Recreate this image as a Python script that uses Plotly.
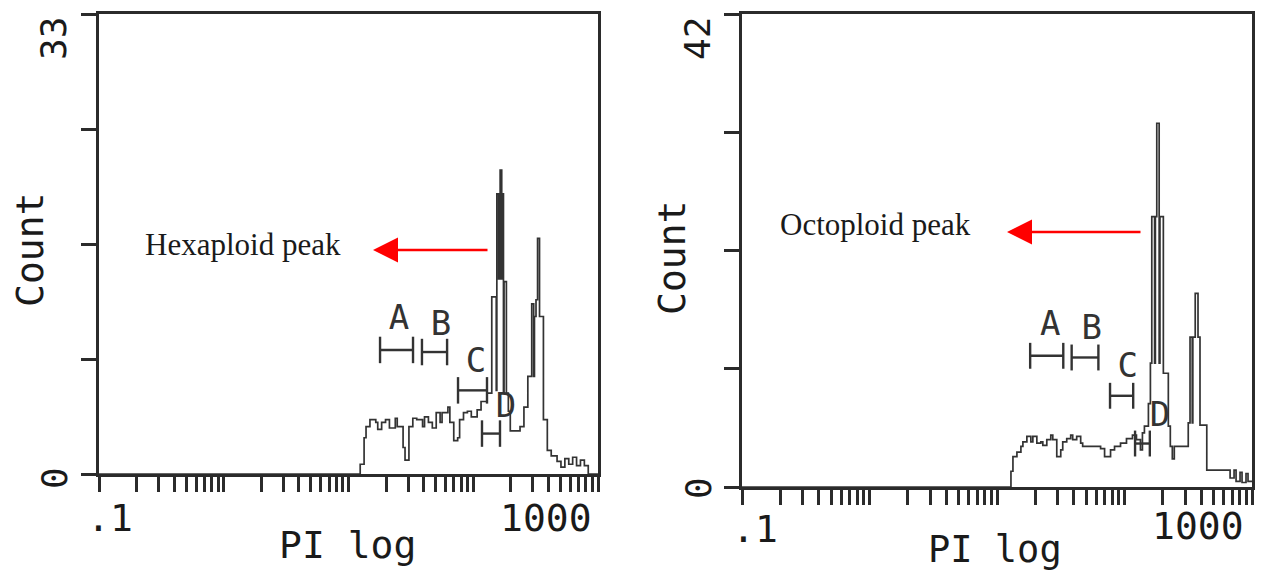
import plotly.graph_objects as go

# ---------------- data ----------------
# histogram bin edges in channels (256 channels over 4 log decades, .1 .. 1000) and counts
L_ch = [0, 134, 136, 137, 139, 142, 143, 145, 147, 149,
        152, 153, 156, 157, 159, 161, 163, 166, 167, 169,
        171, 173, 175, 176, 179, 180, 182, 184, 185, 187,
        189, 191, 194, 196, 199, 201.5, 203.8, 204.1, 205.0, 205.8,
        206.6, 207.0, 207.5, 207.8, 209.0, 210.0, 211.0, 216, 218, 220,
        222, 223.0, 223.4, 224.2, 225, 226, 228, 230, 232, 235,
        237, 239, 241, 243, 245, 247, 249, 251]
L_count = [0, 0.7, 2.6, 3.4, 3.9, 3.7, 3.2, 3.7, 3.9, 3.3,
           4.0, 3.4, 1.9, 1.0, 3.4, 4.0, 3.9, 3.4, 4.1, 3.7,
           3.3, 4.4, 3.7, 4.4, 4.8, 3.7, 2.4, 2.6, 3.9, 4.4,
           4.5, 4.1, 4.6, 5.2, 5.8, 12.7, 6.0, 20.1, 14.0, 21.8,
           14.0, 20.1, 5.8, 13.8, 5.8, 4.5, 3.1, 3.4, 4.8, 7.0,
           12.2, 7.0, 11.3, 12.5, 16.9, 11.3, 3.9, 1.7, 1.3, 0.9,
           0.5, 1.1, 0.7, 1.2, 0.6, 1.0, 0.6, 0]

R_ch = [0, 135, 136, 138, 140, 141, 143, 145, 146, 148,
        150, 151, 153, 155, 156, 158, 160, 161, 163, 165,
        166, 168, 170, 171, 180, 182, 185, 187, 190, 193,
        196, 198, 200, 201, 202, 204, 205, 205.7, 207.1, 207.5,
        208.2, 209.4, 209.8, 211.5, 214, 215, 216, 217, 224, 224.9,
        226.0, 226.3, 227.5, 228.9, 229.9, 233.3, 245, 247, 248, 250,
        251, 253, 254]
R_count = [0, 1.4, 2.7, 3.1, 3.6, 4.0, 4.5, 4.0, 4.5, 3.9,
           4.0, 3.7, 4.2, 4.6, 4.2, 2.7, 3.3, 4.0, 4.3, 4.6,
           4.2, 4.5, 3.9, 3.6, 3.4, 2.7, 3.3, 3.6, 3.9, 4.3,
           4.6, 4.2, 3.3, 4.8, 5.4, 7.4, 11.0, 24.0, 11.0, 24.0,
           32.3, 11.0, 24.0, 10.1, 5.4, 3.6, 2.5, 3.6, 5.7, 13.3,
           5.7, 13.3, 17.2, 13.3, 5.5, 1.5, 0.8, 1.5, 0.5, 1.3,
           0.4, 1.2, 0.5]

N_CHANNELS = 256
X_MIN_DECADE, N_DECADES = -1, 4

L_ymax = 33
R_ymax = 42

x_tickvals = [k * 10.0 ** e for e in range(-1, 3) for k in range(1, 10)] + [1000]

gate_names = ["A", "B", "C", "D"]
L_gate_lo = [17.9, 38.8, 75.5, 117.5]
L_gate_hi = [32.9, 61.7, 128.9, 163.8]
L_gate_y = [8.9, 8.75, 6.0, 2.9]
L_label_x = [25.4, 55.1, 105, 183]
L_label_y = [11.0, 10.6, 7.9, 4.7]

R_gate_lo = [18.2, 38.5, 77, 121]
R_gate_hi = [33.1, 62.4, 117, 158]
R_gate_y = [11.65, 11.5, 8.1, 3.86]
R_label_x = [26.1, 55.3, 106, 190]
R_label_y = [14.25, 13.9, 10.5, 6.2]

# ---------------- helpers ----------------
W, H = 1261, 575
INK = "#2b2b2b"
MONO = "DejaVu Sans Mono"


def ch_to_pi(ch):
    return 10 ** (X_MIN_DECADE + N_DECADES * ch / N_CHANNELS)


def hist_xy(chs, counts):
    xs = [ch_to_pi(c) for c in chs] + [ch_to_pi(N_CHANNELS)]
    ys = list(counts) + [counts[-1]]
    return xs, ys


def gate_xy(lo, hi, yc, half):
    xs, ys = [], []
    for a, b, y in zip(lo, hi, yc):
        xs += [a, a, None, a, b, None, b, b, None]
        ys += [y - half, y + half, None, y, y, None, y - half, y + half, None]
    return xs, ys


fig = go.Figure()

panels = [
    ("x", "y", L_ch, L_count, L_gate_lo, L_gate_hi, L_gate_y, L_label_x, L_label_y, 0.95),
    ("x2", "y2", R_ch, R_count, R_gate_lo, R_gate_hi, R_gate_y, R_label_x, R_label_y, 1.15),
]
for xa, ya, chs, cnt, glo, ghi, gy, lx, ly, half in panels:
    hx, hy = hist_xy(chs, cnt)
    fig.add_trace(go.Scatter(x=hx, y=hy, mode="lines", line_shape="hv",
                             line=dict(color="#333333", width=1.7), xaxis=xa, yaxis=ya,
                             showlegend=False, hoverinfo="skip"))
    gx, gyy = gate_xy(glo, ghi, gy, half)
    fig.add_trace(go.Scatter(x=gx, y=gyy, mode="lines",
                             line=dict(color="#333333", width=2.4), xaxis=xa, yaxis=ya,
                             showlegend=False, hoverinfo="skip"))
    fig.add_trace(go.Scatter(x=lx, y=ly, mode="text", text=gate_names,
                             textfont=dict(family=MONO, size=34, color="#333333"),
                             xaxis=xa, yaxis=ya, showlegend=False, hoverinfo="skip"))

xcommon = dict(type="log", range=[-1, 3], showgrid=False, zeroline=False,
               showline=True, mirror=True, linecolor=INK, linewidth=2.5,
               ticks="outside", tickvals=x_tickvals, ticktext=[""] * len(x_tickvals),
               ticklen=15, tickwidth=3, tickcolor=INK, fixedrange=True)


def ycommon(ymax):
    tv = [0, ymax / 4, ymax / 2, 3 * ymax / 4, ymax]
    return dict(range=[0, ymax], showgrid=False, zeroline=False, showline=True,
                mirror=True, linecolor=INK, linewidth=2.5, ticks="outside",
                tickvals=tv, ticktext=[""] * 5, ticklen=15, tickwidth=2.5,
                tickcolor=INK, fixedrange=True)


fig.update_layout(
    width=W, height=H, margin=dict(l=0, r=0, t=0, b=0),
    paper_bgcolor="white", plot_bgcolor="white", showlegend=False,
    xaxis=dict(domain=[99 / W, 598 / W], anchor="y", **xcommon),
    yaxis=dict(domain=[1 - 474 / H, 1 - 14 / H], anchor="x", **ycommon(L_ymax)),
    xaxis2=dict(domain=[742 / W, 1252 / W], anchor="y2", **xcommon),
    yaxis2=dict(domain=[1 - 487 / H, 1 - 14 / H], anchor="x2", **ycommon(R_ymax)),
)


def ptext(text, px, py, size=38, angle=0, family=MONO):
    fig.add_annotation(text=text, x=px / W, y=1 - py / H, xref="paper", yref="paper",
                       xanchor="center", yanchor="middle", showarrow=False, borderpad=0,
                       textangle=angle, font=dict(family=family, size=size, color="#1a1a1a"))


# left panel texts
ptext(str(L_ymax), 54, 39, size=36, angle=-90)
ptext("0", 54, 478, size=36, angle=-90)
ptext("Count", 30, 250, angle=-90)
ptext(".1", 110, 518)
ptext("1000", 546, 518)
ptext("PI log", 347, 545)
# right panel texts
ptext(str(R_ymax), 698, 39, size=36, angle=-90)
ptext("0", 698, 488, size=36, angle=-90)
ptext("Count", 672, 258, angle=-90)
ptext(".1", 755, 529)
ptext("1000", 1198, 526)
ptext("PI log", 995, 549, size=37)

ptext("Hexaploid peak", 243, 244, size=31, family="Liberation Serif")
ptext("Octoploid peak", 875, 225, size=31, family="Liberation Serif")

# red arrows
for tipx, tipy, length in [(373, 250, 116), (1007, 232, 135)]:
    fig.add_annotation(x=tipx / W, y=1 - tipy / H, xref="paper", yref="paper",
                       ax=length, ay=0, text="", showarrow=True,
                       arrowhead=2, arrowsize=2.0, arrowwidth=2.5, arrowcolor="#ff0000")

fig.write_html("out.html")
